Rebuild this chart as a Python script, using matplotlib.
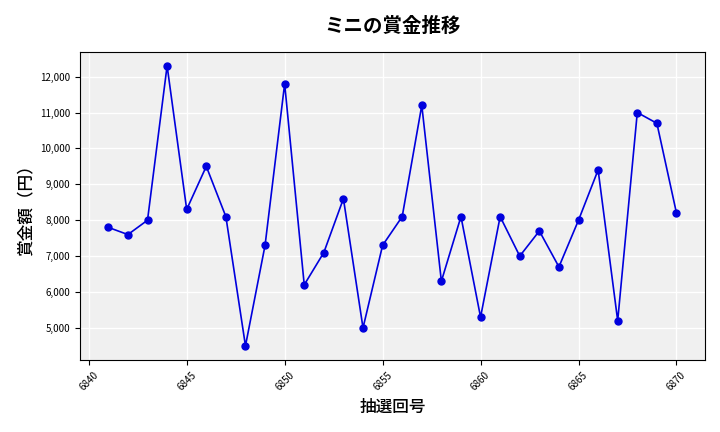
import matplotlib.pyplot as plt
import matplotlib.ticker as mticker

plt.rcParams['font.family'] = ['Noto Sans CJK JP', 'DejaVu Sans']

draw_numbers = list(range(6841, 6871))
prize_yen = [7800, 7600, 8000, 12300, 8300, 9500, 8100, 4500, 7300, 11800,
             6200, 7100, 8600, 5000, 7300, 8100, 11200, 6300, 8100, 5300,
             8100, 7000, 7700, 6700, 8000, 9400, 5200, 11000, 10700, 8200]

fig, ax = plt.subplots(figsize=(7.2, 4.32), dpi=100)
ax.set_facecolor('#f0f0f0')
ax.plot(draw_numbers, prize_yen, color='#0000dd', marker='o', markersize=5, linewidth=1.2)

ax.grid(True, color='white', linewidth=1)
ax.set_axisbelow(True)
ax.yaxis.set_major_formatter(mticker.FuncFormatter(lambda v, p: f'{int(v):,}'))
ax.xaxis.set_major_locator(mticker.MultipleLocator(5))
ax.tick_params(axis='x', labelsize=7, rotation=45)
ax.tick_params(axis='y', labelsize=7)

ax.set_title('ミニの賞金推移', fontsize=14, fontweight='bold', pad=14)
ax.set_xlabel('抽選回号', fontsize=12, fontweight='medium')
ax.set_ylabel('賞金額（円）', fontsize=12, fontweight='medium')

fig.subplots_adjust(left=0.111, right=0.979, top=0.88, bottom=0.167)
fig.savefig('out.png')
